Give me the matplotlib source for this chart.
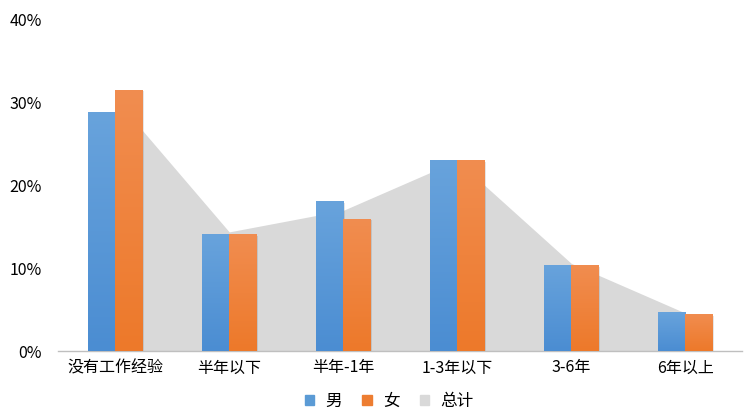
import matplotlib
matplotlib.use("Agg")
import matplotlib.pyplot as plt
import numpy as np
from matplotlib.colors import LinearSegmentedColormap
from matplotlib.patches import Patch

plt.rcParams['font.family'] = ['Noto Sans CJK SC', 'DejaVu Sans']

categories = ["没有工作经验", "半年以下", "半年-1年", "1-3年以下", "3-6年", "6年以上"]
male = [28.9, 14.1, 18.1, 23.1, 10.4, 4.7]
female = [31.6, 14.1, 16.0, 23.1, 10.4, 4.5]
total = [30.5, 14.4, 17.0, 23.0, 10.6, 4.6]
yticks = [0, 10, 20, 30, 40]
ytick_labels = ["0%", "10%", "20%", "30%", "40%"]
series_names = ["男", "女", "总计"]

blue_light, blue_dark = "#68a3dc", "#4b8dd2"
orange_light, orange_dark = "#f18d50", "#ed792a"
gray = "#d9d9d9"

fig = plt.figure(figsize=(7.46, 4.16), dpi=100)
ax = fig.add_axes([0.078, 0.156, 0.917, 0.796])

x = np.arange(len(categories))
ax.fill_between(x, total, 0, color=gray, lw=0, zorder=1)

w = 0.24
def grad_bars(xs, vals, c1, c2):
    bars = ax.bar(xs, vals, width=w, color=c2, lw=0, zorder=3)
    cmap = LinearSegmentedColormap.from_list("g", [c2, c1])
    grad = np.linspace(0, 1, 100).reshape(-1, 1)
    for b in bars:
        x0, y0 = b.get_x(), b.get_y()
        bw, bh = b.get_width(), b.get_height()
        # shadow
        ax.bar(x0 + bw / 2 + 0.015, bh, width=bw, bottom=y0 - 0.2, color="#000000",
               alpha=0.10, lw=0, zorder=2)
        im = ax.imshow(grad, extent=[x0, x0 + bw, y0, y0 + bh], origin="lower",
                       cmap=cmap, aspect="auto", zorder=4, interpolation="bicubic")
        im.set_clip_path(b)
    return bars

grad_bars(x - w / 2, male, blue_light, blue_dark)
grad_bars(x + w / 2, female, orange_light, orange_dark)

ax.set_xlim(-0.5, len(categories) - 0.5)
ax.set_ylim(0, 40)
ax.set_yticks(yticks)
ax.set_yticklabels(ytick_labels)
ax.set_xticks(x)
ax.set_xticklabels(categories)
for s in ["top", "right", "left"]:
    ax.spines[s].set_visible(False)
ax.spines["bottom"].set_color("#bfbfbf")
ax.spines["bottom"].set_linewidth(1.0)
ax.tick_params(axis="both", length=0, labelsize=11.5, colors="#000000")
ax.tick_params(axis="x", pad=6)
ax.tick_params(axis="y", pad=12)

handles = [Patch(color="#5b9bd5"), Patch(color="#ed7d31"), Patch(color=gray)]
fig.legend(handles, series_names, loc="center", bbox_to_anchor=(0.522, 0.036), ncol=3,
           frameon=False, fontsize=12, handlelength=0.55, handleheight=0.55,
           columnspacing=1.2, handletextpad=0.7)

fig.savefig("out.png", dpi=100)
